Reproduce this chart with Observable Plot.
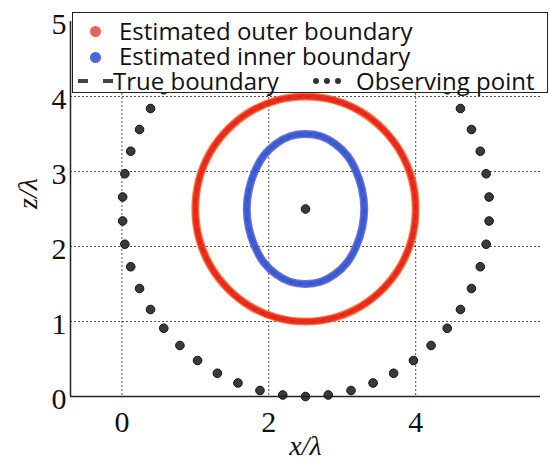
<!DOCTYPE html>
<html>
<head>
<meta charset="utf-8">
<script src="https://cdn.jsdelivr.net/npm/d3@7"></script>
<script src="https://cdn.jsdelivr.net/npm/@observablehq/plot@0.6"></script>
<style>
  body { margin: 0; background: #fff; }
  #wrap { position: relative; width: 550px; height: 461px; }
  #legend { position: absolute; left: 72px; top: 12px; width: 474px; height: 79px;
            border: 1.5px solid #222; background: #fff; font-family: "Open Sans", sans-serif;
            font-size: 24px; color: #111; }
  #legend .t { position: absolute; line-height: 24px; height: 24px; white-space: nowrap; }
  #legend .m { position: absolute; border-radius: 50%; }
</style>
</head>
<body>
<div id="wrap"></div>
<script>
// Estimated outer boundary (x/λ, z/λ)
const outerX = [4.00, 3.95, 3.80, 3.56, 3.25, 2.89, 2.50, 2.11, 1.75, 1.44, 1.20, 1.05, 1.00, 1.05, 1.20, 1.44, 1.75, 2.11, 2.50, 2.89, 3.25, 3.56, 3.80, 3.95];
const outerZ = [2.50, 2.89, 3.25, 3.56, 3.80, 3.95, 4.00, 3.95, 3.80, 3.56, 3.25, 2.89, 2.50, 2.11, 1.75, 1.44, 1.20, 1.05, 1.00, 1.05, 1.20, 1.44, 1.75, 2.11];
// Estimated inner boundary
const innerX = [3.30, 3.27, 3.19, 3.07, 2.90, 2.71, 2.50, 2.29, 2.10, 1.93, 1.81, 1.73, 1.70, 1.73, 1.81, 1.93, 2.10, 2.29, 2.50, 2.71, 2.90, 3.07, 3.19, 3.27];
const innerZ = [2.50, 2.76, 3.00, 3.21, 3.37, 3.47, 3.50, 3.47, 3.37, 3.21, 3.00, 2.76, 2.50, 2.24, 2.00, 1.79, 1.63, 1.53, 1.50, 1.53, 1.63, 1.79, 2.00, 2.24];
// Observing points
const obsX = [5.00, 4.96, 4.88, 4.76, 4.61, 4.43, 4.21, 3.97, 3.70, 3.42, 3.12, 2.81, 2.50, 2.19, 1.88, 1.58, 1.30, 1.03, 0.79, 0.57, 0.39, 0.24, 0.12, 0.04, 0.01,
              0.01, 0.04, 0.12, 0.24, 0.39, 0.57, 0.79, 1.03, 1.30, 1.58, 1.88, 2.19, 2.50, 2.81, 3.12, 3.42, 3.70, 3.97, 4.21, 4.43, 4.61, 4.76, 4.88, 4.96, 5.00, 2.50];
const obsZ = [2.66, 2.97, 3.27, 3.56, 3.84, 4.09, 4.32, 4.52, 4.69, 4.82, 4.92, 4.98, 5.00, 4.98, 4.92, 4.82, 4.69, 4.52, 4.32, 4.09, 3.84, 3.56, 3.27, 2.97, 2.66,
              2.34, 2.03, 1.73, 1.44, 1.16, 0.91, 0.68, 0.48, 0.31, 0.18, 0.08, 0.02, 0.00, 0.02, 0.08, 0.18, 0.31, 0.48, 0.68, 0.91, 1.16, 1.44, 1.73, 2.03, 2.34, 2.50];
// Axes
const xDomain = [-0.7, 5.7];
const yDomain = [0, 5];
const xTicks = [0, 2, 4];
const yTicks = [0, 1, 2, 3, 4, 5];
const xGrid = [0, 2, 4];
const yGrid = [1, 2, 3, 4];
const legendLabels = ["Estimated outer boundary", "Estimated inner boundary", "True boundary", "Observing point"];

const outer = outerX.map((x, i) => ({x, z: outerZ[i]}));
const inner = innerX.map((x, i) => ({x, z: innerZ[i]}));
const obs = obsX.map((x, i) => ({x, z: obsZ[i]}));

const serif = "Liberation Serif, Times New Roman, serif";

const chart = Plot.plot({
  width: 550,
  height: 461,
  marginLeft: 70,
  marginRight: 10,
  marginTop: 21,
  marginBottom: 65,
  style: {fontFamily: serif, fontSize: "30px", background: "transparent", color: "#111"},
  x: {domain: xDomain},
  y: {domain: yDomain},
  marks: [
    Plot.gridX(xGrid, {stroke: "#000", strokeOpacity: 0.75, strokeWidth: 0.9, strokeDasharray: "2,2"}),
    Plot.gridY(yGrid, {stroke: "#000", strokeOpacity: 0.75, strokeWidth: 0.9, strokeDasharray: "2,2"}),
    Plot.line(outer, {x: "x", y: "z", curve: "catmull-rom-closed", stroke: "#f2712e", strokeWidth: 8, strokeOpacity: 0.9}),
    Plot.line(outer, {x: "x", y: "z", curve: "catmull-rom-closed", stroke: "#f02a1e", strokeWidth: 5.5}),
    Plot.line(inner, {x: "x", y: "z", curve: "catmull-rom-closed", stroke: "#6a5fd8", strokeWidth: 8, strokeOpacity: 0.9}),
    Plot.line(inner, {x: "x", y: "z", curve: "catmull-rom-closed", stroke: "#3b5fd6", strokeWidth: 5.5}),
    Plot.line(outer, {x: "x", y: "z", curve: "catmull-rom-closed", stroke: "#333", strokeWidth: 1, strokeOpacity: 0.35, strokeDasharray: "4,6"}),
    Plot.line(inner, {x: "x", y: "z", curve: "catmull-rom-closed", stroke: "#333", strokeWidth: 1, strokeOpacity: 0.35, strokeDasharray: "4,6"}),
    Plot.dot(obs, {x: "x", y: "z", r: 4.3, fill: "#3a3a3a", stroke: "#111", strokeWidth: 1}),
    Plot.ruleX([xDomain[0]], {stroke: "#222", strokeWidth: 1.5}),
    Plot.ruleY([yDomain[0]], {stroke: "#222", strokeWidth: 1.5}),
    Plot.axisX(xTicks, {tickSize: 0, tickPadding: 14, fontSize: 30, fontFamily: serif, label: null, tickFormat: d => String(d)}),
    Plot.axisY(yTicks, {tickSize: 0, tickPadding: 4, fontSize: 30, fontFamily: serif, label: null, dy: 3, tickFormat: d => String(d)}),
    Plot.text(["x/λ"], {frameAnchor: "bottom", dy: 58, fontSize: 28, fontStyle: "italic", fontFamily: serif}),
    Plot.text(["z/λ"], {frameAnchor: "left", dx: -42, rotate: -90, fontSize: 28, fontStyle: "italic", fontFamily: serif})
  ]
});

const wrap = document.getElementById("wrap");
wrap.appendChild(chart);

const lg = document.createElement("div");
lg.id = "legend";
lg.innerHTML = `
  <div class="m" style="left:17px;top:13px;width:11px;height:11px;background:radial-gradient(circle at 40% 40%, #e85a7a, #f0702a);"></div>
  <div class="t" style="left:46px;top:6px;">${legendLabels[0]}</div>
  <div class="m" style="left:17px;top:39px;width:11px;height:11px;background:radial-gradient(circle at 40% 40%, #3a6ae0, #6a5fd0);"></div>
  <div class="t" style="left:46px;top:31px;">${legendLabels[1]}</div>
  <div style="position:absolute;left:5px;top:66px;width:10px;height:4px;background:#444;"></div>
  <div style="position:absolute;left:30px;top:66px;width:10px;height:4px;background:#444;"></div>
  <div class="t" style="left:40px;top:56px;">${legendLabels[2]}</div>
  <div class="m" style="left:240px;top:65px;width:6px;height:6px;background:#333;"></div>
  <div class="m" style="left:251px;top:65px;width:6px;height:6px;background:#333;"></div>
  <div class="m" style="left:262px;top:65px;width:6px;height:6px;background:#333;"></div>
  <div class="t" style="left:283px;top:56px;">${legendLabels[3]}</div>
`;
wrap.appendChild(lg);
</script>
</body>
</html>
